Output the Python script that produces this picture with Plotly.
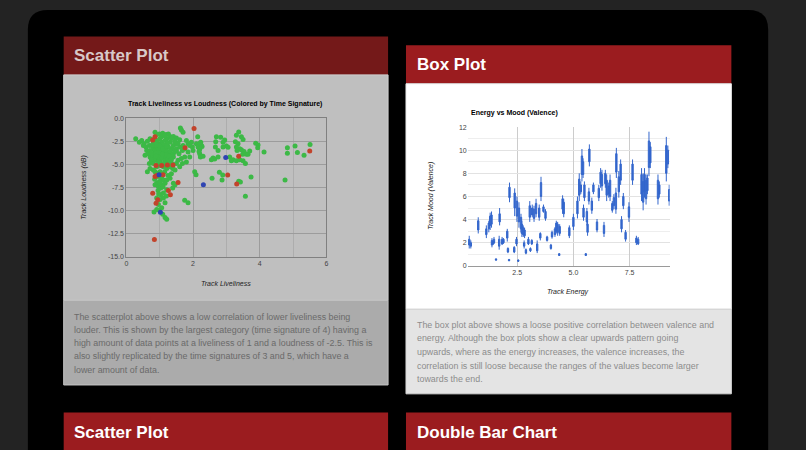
import plotly.graph_objects as go

# ---------------- Scatter data (Track Liveliness vs Loudness) ----------------
green_x = [0.28, 0.39, 0.46, 0.53, 0.63, 0.71, 0.86, 0.91, 0.99, 1.09, 1.19, 1.26, 1.21, 1.31, 1.41, 1.5, 1.6, 1.65, 1.62, 1.7,
           1.8, 1.85, 1.9, 1.95, 1.98, 2.0, 2.1, 2.15, 2.2, 2.25, 2.23, 2.22,
           0.51, 0.59, 0.69, 0.61, 0.56, 0.66, 0.71, 0.76, 0.69, 0.63, 0.71, 0.81, 0.86, 0.91, 1.01, 1.06, 1.11, 0.99, 0.91, 0.86,
           0.96, 1.03, 1.09, 1.16, 1.21, 1.31, 1.41, 1.46, 1.39, 1.21, 1.11, 1.03, 1.01, 1.11, 1.16, 1.06, 0.99, 0.91, 0.83, 1.09,
           1.16, 1.21, 0.91, 0.96, 1.39, 1.46, 1.5, 1.55, 1.65, 1.75, 1.85, 1.9, 1.8, 1.68, 1.6, 1.5, 1.58, 1.68, 1.75, 2.05, 1.75,
           1.85, 1.41, 1.31, 1.16, 1.06, 0.96, 0.86, 0.81, 0.76, 0.89, 0.96, 1.06, 1.16, 1.26, 1.36, 1.41, 1.5, 1.31, 1.16, 1.01,
           0.91, 0.81, 0.79, 0.86, 1.01, 1.11, 1.21, 1.31, 1.41, 1.5, 1.6, 1.7, 1.06, 0.96, 1.16, 1.26, 1.01, 1.11, 1.21, 0.91, 0.81,
           0.91, 1.01, 1.31, 1.36, 1.16, 1.23, 1.09, 0.99, 0.89, 0.79, 0.83, 0.71,
           0.95, 1.05, 1.15, 1.25, 0.88, 1.08, 1.18, 1.28, 0.98, 1.12, 1.02, 0.93, 1.2, 1.3, 1.0, 1.1, 1.2, 0.9, 0.85, 1.05, 1.15,
           1.35, 1.45, 1.55, 1.45, 1.35, 0.75, 0.75, 0.95, 1.05, 1.15, 1.0, 1.1, 0.95, 1.25, 1.35, 0.85, 1.2, 0.97,
           2.7, 2.83, 2.95, 2.9, 2.68, 2.75, 2.67, 2.6, 2.65, 2.55, 2.75, 2.9, 3.0, 3.05, 3.37, 3.3, 3.45, 3.5, 3.27, 3.35, 3.3, 3.4,
           3.32, 3.45, 3.53, 3.6, 3.7, 3.65, 3.49, 3.5, 3.1, 3.2, 3.3, 3.15, 3.4, 3.57, 3.88, 3.95, 3.94, 4.13, 2.14, 2.21, 2.27, 2.2,
           2.18, 2.3, 2.09, 2.57, 2.79, 2.89, 2.87, 3.37, 3.42, 3.74, 4.76, 3.57, 4.83, 4.83, 5.06, 5.13, 5.33, 5.51]
green_y = [-2.23, -2.6, -2.41, -2.77, -2.48, -2.23, -1.52, -1.77, -1.7, -1.63, -1.77, -1.7, -2.23, -1.99, -1.99, -2.13, -2.34,
           -1.28, -1.06, -1.52, -2.41, -2.77, -2.94, -2.59, -3.12, -3.48, -2.77, -3.12, -3.83, -2.94, -2.59, -4.18,
           -2.94, -3.12, -2.94, -3.48, -4.0, -3.83, -4.18, -4.54, -4.89, -5.78, -5.43, -5.6, -5.78, -5.96, -5.78, -6.49, -6.67,
           -6.84, -7.02, -7.2, -7.38, -7.55, -7.2, -7.02, -6.67, -6.49, -7.02, -7.2, -7.55, -7.73, -8.09, -8.26, -8.79, -8.62,
           -9.15, -9.68, -9.93, -9.86, -10.14, -10.39, -10.74, -10.92, -8.62, -9.33, -5.43, -5.6, -4.89, -4.54, -4.36, -4.18,
           -3.65, -4.18, -4.72, -4.89, -5.25, -3.55, -3.83, -3.48, -3.3, -5.78, -8.87, -9.15, -4.18, -3.83, -4.18, -4.0, -3.83,
           -3.65, -3.3, -2.94, -3.12, -2.77, -2.59, -2.94, -3.12, -3.3, -2.94, -2.77, -2.59, -2.41, -2.23, -2.41, -2.59, -2.94,
           -3.48, -3.48, -3.65, -3.76, -3.55, -3.83, -3.3, -3.12, -2.94, -3.12, -3.3, -4.0, -4.72, -4.89, -5.25, -5.43, -4.54,
           -4.89, -5.25, -4.54, -5.25, -4.89, -3.12, -2.7, -2.84, -3.76, -3.76, -4.11, -4.47, -3.48,
           -4.2, -4.3, -4.6, -4.4, -4.1, -3.9, -3.4, -4.1, -4.7, -4.9, -5.1, -5.0, -5.0, -4.6, -3.0, -3.3, -3.0, -2.9, -2.2, -2.0,
           -1.9, -2.2, -2.5, -2.7, -3.6, -4.5, -3.8, -4.5, -6.3, -6.0, -5.8, -7.0, -7.4, -7.8, -6.2, -6.0, -6.6, -8.4, -8.2,
           -2.0, -2.05, -2.35, -2.6, -2.55, -3.5, -3.1, -4.3, -4.4, -4.5, -4.2, -3.1, -3.0, -3.15, -1.5, -1.85, -2.0, -2.3, -2.55,
           -2.75, -3.1, -3.3, -3.5, -3.4, -3.6, -3.9, -3.55, -3.9, -3.9, -4.6, -4.2, -4.5, -4.6, -4.6, -4.5, -4.9, -2.7, -2.9, -3.2,
           -3.65, -2.0, -2.7, -3.05, -3.35, -3.6, -4.1, -6.1, -6.5, -5.85, -6.13, -6.67, -6.8, -6.9, -6.35, -6.67, -8.44, -3.2,
           -3.8, -3.0, -3.72, -4.0, -2.84]
red_x = [2.03, 0.86, 0.79, 1.76, 5.5, 3.37, 0.89, 1.06, 1.23, 1.4, 0.86, 0.91, 1.1, 1.55, 3.04, 3.31, 0.79, 1.26, 1.32, 0.94, 0.89, 0.84]
red_y = [-1.1, -2.0, -2.35, -3.2, -3.55, -4.1, -5.1, -5.1, -5.07, -5.07, -6.3, -6.2, -6.1, -6.95, -6.13, -7.1, -8.1, -7.8, -8.26, -8.8, -9.2, -13.1]
blue_x = [0.98, 1.02, 2.31, 2.98]
blue_y = [-6.1, -10.15, -7.2, -4.25]

# ---------------- Box data (Energy vs Mood) ----------------
energy = [0.37, 0.44, 0.77, 1.13, 1.24, 1.30, 1.36, 1.38, 1.43, 1.47, 1.56, 1.72, 1.70, 1.83, 1.89, 2.06, 2.09, 2.16, 2.14, 2.39,
          2.37, 2.49, 2.47, 2.55, 2.58, 2.67, 2.71, 2.77, 2.83, 2.81, 2.89, 3.00, 3.06, 3.09, 3.17, 3.15, 3.25, 3.34, 3.39, 3.48,
          3.53, 3.56, 3.67, 3.76, 3.83, 4.00, 4.05, 4.18, 4.24, 4.30, 4.37, 4.39, 4.52, 4.57, 4.82, 5.00, 5.18, 5.26, 5.33, 5.38,
          5.43, 5.45, 5.49, 5.55, 5.60, 5.63, 5.71, 5.69, 5.82, 5.89, 6.05, 6.13, 6.21, 6.27, 6.36, 6.42, 6.48, 6.57, 6.63, 6.73,
          6.80, 6.91, 6.89, 7.02, 7.10, 7.14, 7.22, 7.32, 7.47, 7.63, 7.80, 7.88, 8.03, 8.10, 8.16, 8.23, 8.29, 8.36, 8.42, 8.76,
          8.82, 9.13, 9.20, 9.26]
mood_low = [1.5, 1.5, 2.8, 2.4, 2.9, 3.1, 3.3, 1.6, 1.8, 1.9, 0.45, 3.5, 1.4, 1.8, 1.9, 2.1, 1.1, 5.5, 0.4, 4.3,
            1.1, 3.8, 1.7, 0.35, 3.3, 2.9, 2.5, 2.5, 2.4, 1.5, 1.0, 1.8, 3.8, 1.2, 4.2, 1.8, 3.8, 4.2, 1.1, 3.9,
            2.2, 5.6, 4.6, 3.9, 2.1, 1.4, 2.35, 2.5, 2.8, 2.6, 0.85, 2.6, 4.5, 4.2, 2.4, 3.1, 4.1, 5.6, 6.2, 7.3,
            7.6, 3.9, 5.6, 0.85, 3.5, 2.6, 8.6, 5.3, 4.5, 6.2, 2.9, 5.6, 6.75, 6.5, 2.5, 6.75, 5.6, 5.9, 5.6, 4.6,
            4.9, 7.6, 4.5, 5.9, 7.0, 2.9, 4.9, 2.1, 3.8, 7.0, 1.8, 1.8, 5.6, 4.8, 5.9, 5.3, 6.2, 7.75, 8.45, 5.3,
            5.9, 7.3, 8.45, 5.2]
mood_q1 = [1.8, 1.7, 3.1, 2.7, 3.2, 3.5, 3.6, 1.8, 1.9, 2.0, 0.5, 3.8, 1.7, 1.9, 2.0, 2.4, 1.2, 5.9, 0.45, 5.0,
           1.2, 4.3, 1.9, 0.4, 3.8, 3.2, 2.8, 2.7, 2.6, 1.7, 1.1, 1.9, 4.2, 1.3, 4.4, 1.9, 4.1, 4.5, 1.3, 4.2,
           2.4, 6.0, 4.7, 4.1, 2.2, 1.5, 2.5, 2.7, 3.0, 2.9, 0.9, 2.8, 4.9, 4.5, 2.6, 3.4, 4.5, 6.1, 6.4, 7.9,
           7.9, 4.2, 5.9, 0.9, 3.8, 2.9, 9.0, 5.6, 4.8, 6.4, 3.1, 5.9, 7.1, 6.9, 2.8, 7.1, 6.1, 6.2, 6.0, 4.8,
           5.2, 8.1, 4.9, 6.4, 7.4, 3.2, 5.2, 2.3, 4.2, 7.4, 2.0, 1.9, 6.2, 5.5, 6.4, 5.8, 6.5, 8.5, 8.9, 5.8,
           6.2, 8.0, 8.8, 5.6]
mood_q3 = [2.3, 2.0, 3.9, 3.2, 3.7, 4.3, 4.4, 2.2, 2.1, 2.3, 0.6, 4.5, 2.3, 2.3, 2.3, 3.0, 1.5, 6.8, 0.55, 6.3,
           1.6, 5.6, 2.3, 0.5, 5.0, 4.2, 3.6, 3.3, 3.1, 2.0, 1.4, 2.3, 5.2, 1.5, 5.0, 2.2, 4.9, 5.4, 1.9, 5.0,
           2.8, 7.2, 5.1, 4.7, 2.5, 1.8, 2.9, 3.2, 3.7, 3.6, 1.05, 3.4, 5.8, 5.5, 3.3, 4.2, 5.6, 7.5, 7.0, 9.5,
           9.0, 5.0, 7.0, 1.05, 4.7, 3.6, 10.1, 6.4, 5.6, 7.0, 3.8, 6.7, 8.1, 7.9, 3.5, 8.0, 7.4, 6.9, 7.4, 5.4,
           5.9, 9.7, 6.3, 7.7, 8.8, 4.0, 6.0, 2.9, 5.1, 8.8, 2.4, 2.3, 7.9, 7.3, 7.9, 7.4, 7.6, 10.8, 10.3, 7.4,
           7.0, 10.4, 10.0, 6.6]
mood_high = [2.6, 2.2, 4.2, 3.5, 3.9, 4.6, 4.7, 2.4, 2.2, 2.5, 0.65, 5.0, 2.6, 2.5, 2.4, 3.2, 1.6, 7.2, 0.6, 6.7,
             1.7, 6.0, 2.5, 0.55, 5.5, 4.5, 3.9, 3.5, 3.3, 2.2, 1.5, 2.5, 5.6, 1.6, 5.3, 2.3, 5.2, 5.8, 2.2, 5.3,
             2.9, 7.7, 5.3, 4.9, 2.6, 1.9, 3.05, 3.35, 3.9, 3.8, 1.1, 3.6, 6.1, 5.8, 3.5, 4.5, 6.0, 8.0, 7.3, 10.1,
             9.3, 5.3, 7.3, 1.1, 5.0, 3.9, 10.5, 6.75, 5.9, 7.2, 4.05, 7.0, 8.45, 8.3, 3.8, 8.3, 7.9, 7.2, 7.9, 5.6,
             6.2, 10.2, 6.75, 8.2, 9.2, 4.3, 6.3, 3.1, 5.5, 9.2, 2.6, 2.5, 8.45, 8.0, 8.45, 7.9, 7.9, 11.6, 10.7, 7.9,
             7.3, 11.15, 10.4, 7.0]

scatter_x_ticks = [0, 2, 4, 6]
scatter_y_ticks = [0, -2.5, -5, -7.5, -10, -12.5, -15]
scatter_y_labels = ["0.0", "-2.5", "-5.0", "-7.5", "-10.0", "-12.5", "-15.0"]
box_x_ticks = [2.5, 5, 7.5]
box_x_labels = ["2.5", "5.0", "7.5"]

left_text = [
    "The scatterplot above shows a low correlation of lower liveliness being",
    "louder. This is shown by the largest category (time signature of 4) having a",
    "high amount of data points at a liveliness of 1 and a loudness of -2.5. This is",
    "also slightly replicated by the time signatures of 3 and 5, which have a",
    "lower amount of data.",
]
right_text = [
    "The box plot above shows a loose positive correlation between valence and",
    "energy. Although the box plots show a clear upwards pattern going",
    "upwards, where as the energy increases, the valence increases, the",
    "correlation is still loose because the ranges of the values become larger",
    "towards the end.",
]

W, H = 806, 450
FONT = "Liberation Sans, Arial, Helvetica, sans-serif"


def fx(p):
    return p / W


def fy(p):
    return 1 - p / H


shapes = []


def rect(x0, y0, x1, y1, color, line=None):
    shapes.append(dict(type="rect", xref="paper", yref="paper", x0=fx(x0), x1=fx(x1), y0=fy(y1), y1=fy(y0),
                       fillcolor=color, line=dict(width=1 if line else 0, color=line or color), layer="below"))


# black rounded panel
r = 20
x0, x1, y0, y1 = 26, 770, 6, 470
path = (f"M {fx(x0 + r)},{fy(y0)} L {fx(x1 - r)},{fy(y0)} Q {fx(x1)},{fy(y0)} {fx(x1)},{fy(y0 + r)} "
        f"L {fx(x1)},{fy(y1)} L {fx(x0)},{fy(y1)} L {fx(x0)},{fy(y0 + r)} Q {fx(x0)},{fy(y0)} {fx(x0 + r)},{fy(y0)} Z")
shapes.append(dict(type="path", xref="paper", yref="paper", path=path, fillcolor="#000000",
                   line=dict(width=0), layer="below"))

# left card (dimmed)
rect(62, 33, 388, 72, "#741919")
rect(62, 72, 388, 301, "#bfbfbf", "#cfcfcf")
rect(62, 301, 388, 387, "#ababab", "#c4c4c4")
# right card
rect(406, 42, 733, 81, "#9b1c1f")
rect(406, 81, 733, 310, "#ffffff", "#e8e8e8")
rect(406, 310, 733, 396, "#e4e4e4", "#d6d6d6")
# bottom cards
rect(62, 415, 388, 455, "#9b1c1f")
rect(406, 415, 733, 455, "#9b1c1f")

annotations = []


def text(x, y, s, size, color, bold=False, xanchor="left", angle=0):
    annotations.append(dict(xref="paper", yref="paper", x=fx(x), y=fy(y), text=f"<b>{s}</b>" if bold else s,
                            showarrow=False, xanchor=xanchor, yanchor="middle", textangle=angle,
                            font=dict(family=FONT, size=size, color=color)))


text(70, 52.5, "Scatter Plot", 17, "#d8c8c8", bold=True)
text(415, 61.5, "Box Plot", 17, "#ffffff", bold=True)
text(70, 435, "Scatter Plot", 17, "#ffffff", bold=True)
text(415, 435, "Double Bar Chart", 17, "#ffffff", bold=True)

for s, yy in zip(left_text, [317.7, 331, 344.5, 358, 371.7]):
    text(70, yy, s, 8.9, "#6a6a6a")
for s, yy in zip(right_text, [325.7, 339.3, 353.3, 367.3, 381]):
    text(415, yy, s, 8.9, "#8c8c8c")

# chart titles and axis titles
text(125, 101.3, "Track Liveliness vs Loudness (Colored by Time Signature)", 7, "#000000", bold=True)
text(469, 111, "Energy vs Mood (Valence)", 7, "#000000", bold=True)
text(225, 284, "<i>Track Liveliness</i>", 7, "#222222", xanchor="center")
text(82, 187, "<i>Track Loudness (dB)</i>", 7, "#222222", xanchor="center", angle=-90)
text(569, 293, "<i>Track Energy</i>", 7, "#222222", xanchor="center")
text(431, 195, "<i>Track Mood (Valence)</i>", 7, "#222222", xanchor="center", angle=-90)

fig = go.Figure()
fig.add_trace(go.Scatter(x=green_x, y=green_y, mode="markers", marker=dict(color="#3cb946", size=5),
                         xaxis="x", yaxis="y", showlegend=False, hoverinfo="skip"))
fig.add_trace(go.Scatter(x=red_x, y=red_y, mode="markers", marker=dict(color="#c2432b", size=5),
                         xaxis="x", yaxis="y", showlegend=False, hoverinfo="skip"))
fig.add_trace(go.Scatter(x=blue_x, y=blue_y, mode="markers", marker=dict(color="#2f44b2", size=5),
                         xaxis="x", yaxis="y", showlegend=False, hoverinfo="skip"))
fig.add_trace(go.Box(x=energy, q1=mood_q1, median=mood_q1, q3=mood_q3, lowerfence=mood_low, upperfence=mood_high,
                     orientation="v", width=0.06, whiskerwidth=0, boxpoints=False,
                     line=dict(color="#3366cc", width=1), fillcolor="#3366cc",
                     xaxis="x2", yaxis="y2", showlegend=False, hoverinfo="skip"))

tickfont = dict(family=FONT, size=7, color="#444444")
fig.update_layout(
    width=W, height=H, margin=dict(l=0, r=0, t=0, b=0),
    paper_bgcolor="#232323", plot_bgcolor="rgba(0,0,0,0)",
    shapes=shapes, annotations=annotations, showlegend=False,
    xaxis=dict(domain=[fx(125), fx(326)], range=[0, 6], tickmode="array", tickvals=scatter_x_ticks,
               ticktext=[str(v) for v in scatter_x_ticks], showgrid=True, gridcolor="#9c9c9c", gridwidth=1,
               minor=dict(tickvals=[1, 3, 5], showgrid=True, gridcolor="#adadad"),
               showline=True, mirror=True, linecolor="#808080", zeroline=False, ticks="", tickfont=tickfont,
               fixedrange=True),
    yaxis=dict(domain=[fy(257), fy(116)], range=[-15, 0], tickmode="array", tickvals=scatter_y_ticks,
               ticktext=scatter_y_labels, showgrid=True, gridcolor="#9c9c9c", showline=True, mirror=True,
               linecolor="#808080", zeroline=False, ticks="", tickfont=tickfont, fixedrange=True),
    xaxis2=dict(domain=[fx(468), fx(671)], range=[0.3, 9.28], tickmode="array", tickvals=box_x_ticks,
                ticktext=box_x_labels, showgrid=True, gridcolor="#cccccc", showline=True, linecolor="#9a9a9a",
                zeroline=False, ticks="", tickfont=tickfont, anchor="y2", fixedrange=True),
    yaxis2=dict(domain=[fy(266), fy(125)], range=[0, 12], dtick=2, showgrid=True, gridcolor="#e2e2e2",
                minor=dict(dtick=1, showgrid=True, gridcolor="#eeeeee"), zeroline=False, ticks="",
                tickfont=tickfont, anchor="x2", fixedrange=True),
)

fig.write_html("out.html", config={"displayModeBar": False},
               post_script="document.body.style.margin='0';document.body.style.overflow='hidden';"
                           "document.body.style.background='#232323';")
